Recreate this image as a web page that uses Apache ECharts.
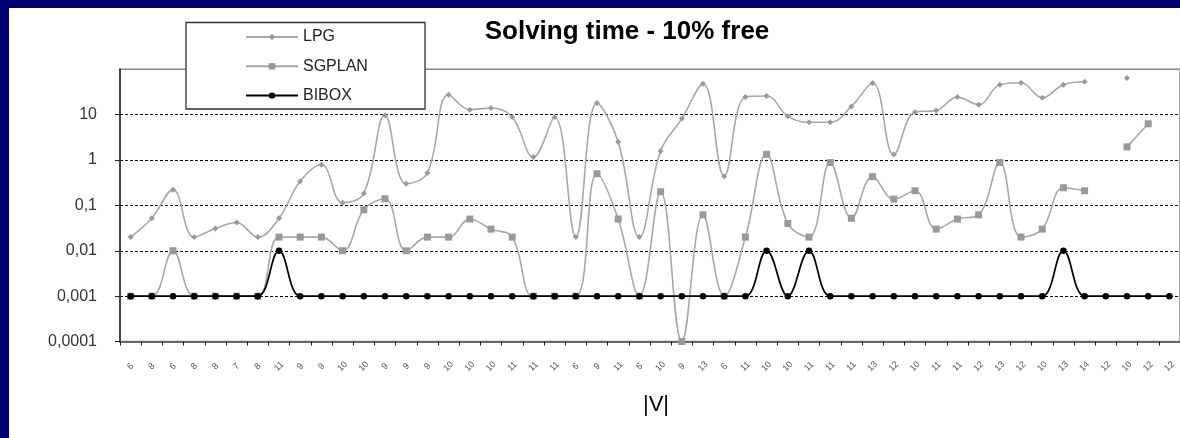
<!DOCTYPE html>
<html>
<head>
<meta charset="utf-8">
<script src="https://cdn.jsdelivr.net/npm/echarts@6/dist/echarts.min.js"></script>
<style>
  html, body { margin: 0; padding: 0; background: #fff; }
  #wrap { position: relative; width: 1180px; height: 438px; overflow: hidden; background: #fff; }
  #chart { position: absolute; left: 0; top: 0; width: 1180px; height: 438px; }
  .bar { position: absolute; background: #000072; z-index: 10; }
</style>
</head>
<body>
<div id="wrap">
  <div id="chart"></div>
  <div class="bar" style="left:0;top:0;width:1180px;height:8px;"></div>
  <div class="bar" style="left:0;top:0;width:9px;height:438px;"></div>
</div>
<script>
// ---- data ----
const categories = ['6','8','6','8','8','7','8','11','9','9','10','10','9','9','9','10','10','10','11','11','11','6','9','11','6',
                    '10','9','13','6','11','10','10','11','11','11','13','12','10','11','11','12','13','12','10','13','14','12','10','12','12'];
const lpg = [0.02,0.052,0.22,0.02,0.031,0.042,0.02,0.052,0.34,0.79,0.115,0.184,9.7,0.3,0.52,27.5,12.9,14,8.9,1.17,8.9,0.02,18,2.5,0.02,
             1.58,8.2,48,0.44,24.4,25.7,9.2,6.8,6.8,15.2,50,1.32,11.4,12.4,24.4,16.6,45.7,50.5,23.6,45.7,53,null,64,null,null];
const sgplan = [0.001,0.001,0.01,0.001,0.001,0.001,0.001,0.02,0.02,0.02,0.01,0.08,0.14,0.01,0.02,0.02,0.05,0.03,0.02,0.001,0.001,0.001,0.5,0.05,0.001,
                0.2,0.0001,0.062,0.001,0.02,1.34,0.04,0.02,0.88,0.052,0.43,0.138,0.21,0.03,0.05,0.062,0.88,0.02,0.03,0.245,0.21,null,1.95,6.3,null];
const bibox = [0.001,0.001,0.001,0.001,0.001,0.001,0.001,0.01,0.001,0.001,0.001,0.001,0.001,0.001,0.001,0.001,0.001,0.001,0.001,0.001,0.001,0.001,0.001,0.001,0.001,
               0.001,0.001,0.001,0.001,0.001,0.01,0.001,0.01,0.001,0.001,0.001,0.001,0.001,0.001,0.001,0.001,0.001,0.001,0.001,0.01,0.001,0.001,0.001,0.001,0.001];
const titleText = 'Solving time - 10% free';
const xName = '|V|';

const FONT = '"Liberation Sans", Arial, sans-serif';
const chart = echarts.init(document.getElementById('chart'), null, { renderer: 'canvas' });

function fmtLog(v) {
  const e = Math.round(Math.log10(v));
  if (e >= 0) return String(Math.pow(10, e));
  return '0,' + '0'.repeat(-e - 1) + '1';
}

chart.setOption({
  animation: false,
  backgroundColor: '#fff',
  title: {
    text: titleText,
    left: 627, top: 19, textAlign: 'center', padding: 0,
    textStyle: { fontFamily: FONT, fontSize: 26, fontWeight: 'bold', color: '#000' }
  },
  graphic: [{
    type: 'rect', z: 3,
    shape: { x: 186, y: 22.5, width: 239, height: 86.5 },
    style: { fill: '#fff', stroke: '#333', lineWidth: 1.3 }
  }],
  legend: {
    orient: 'vertical', left: 245, top: 29, padding: 0, z: 4,
    itemWidth: 52, itemHeight: 8, itemGap: 13.3,
    textStyle: { fontFamily: FONT, fontSize: 16, lineHeight: 16, color: '#222' },
    data: ['LPG', 'SGPLAN', 'BIBOX']
  },
  grid: {
    left: 120, top: 69.3, width: 1062.5, height: 272.2,
    show: true, borderColor: '#888', borderWidth: 1.5, backgroundColor: 'transparent'
  },
  xAxis: {
    type: 'category', data: categories, boundaryGap: true,
    name: xName, nameLocation: 'middle', nameGap: 63,
    nameTextStyle: { fontFamily: FONT, fontSize: 22, color: '#000', verticalAlign: 'middle', padding: [0, 0, 0, 12] },
    axisLine: { lineStyle: { color: '#666', width: 2 } },
    axisTick: { show: true, length: 4, lineStyle: { color: '#222', width: 1 } },
    axisLabel: {
      interval: 0, rotate: 45, margin: 25, align: 'center', verticalAlign: 'middle',
      fontFamily: FONT, fontSize: 9, color: '#555'
    },
    splitLine: { show: false }
  },
  yAxis: {
    type: 'log', logBase: 10, min: 0.0001, max: 100,
    axisLine: { show: true, lineStyle: { color: '#444', width: 2 } },
    axisTick: { show: true, length: 5, lineStyle: { color: '#222', width: 1 } },
    axisLabel: {
      showMaxLabel: false, margin: 23,
      fontFamily: FONT, fontSize: 16, color: '#333',
      formatter: fmtLog
    },
    splitLine: {
      show: true, showMinLine: false, showMaxLine: false,
      lineStyle: { color: '#000', width: 1, type: [3, 2] }
    },
    minorTick: { show: false }, minorSplitLine: { show: false }
  },
  series: [
    {
      name: 'LPG', type: 'line', data: lpg, smooth: 0.4, connectNulls: false,
      symbol: 'diamond', symbolSize: 6, showSymbol: true,
      lineStyle: { color: '#a8a8a8', width: 1.6 },
      itemStyle: { color: '#9a9a9a' }, z: 2
    },
    {
      name: 'SGPLAN', type: 'line', data: sgplan, smooth: 0.4, connectNulls: false,
      symbol: 'rect', symbolSize: 7, showSymbol: true,
      lineStyle: { color: '#a8a8a8', width: 1.6 },
      itemStyle: { color: '#999' }, z: 3
    },
    {
      name: 'BIBOX', type: 'line', data: bibox, smooth: 0.4,
      symbol: 'circle', symbolSize: 6.5, showSymbol: true,
      lineStyle: { color: '#000', width: 1.7 },
      itemStyle: { color: '#000' }, z: 4
    }
  ]
});
</script>
</body>
</html>
